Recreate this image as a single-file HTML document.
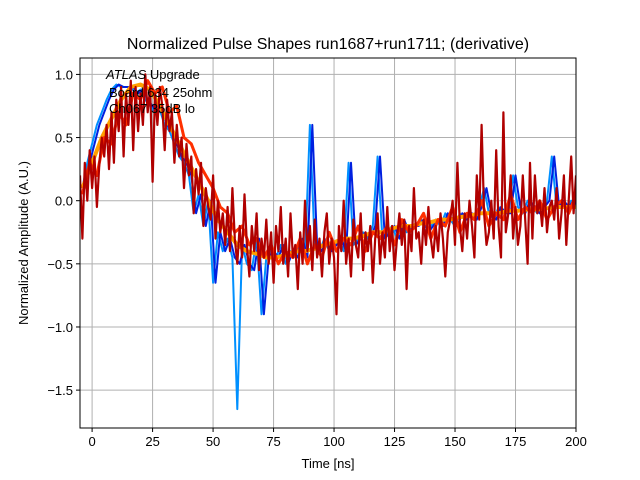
<!DOCTYPE html>
<html><head><meta charset="utf-8"><style>
body{margin:0;background:#fff;}
svg{display:block;font-family:"Liberation Sans","DejaVu Sans",sans-serif;}
</style></head><body>
<svg id="chart" width="640" height="480">
<rect width="640" height="480" fill="#fff"/>
<text x="328" y="49" text-anchor="middle" font-size="16">Normalized Pulse Shapes run1687+run1711; (derivative)</text>
<g id="grid"></g>
<g id="series"></g>
<rect x="80" y="58" width="496" height="370" fill="none" stroke="#000" stroke-width="1"/>
<g id="ticks"></g>
<text x="328" y="468" text-anchor="middle" font-size="13">Time [ns]</text>
<text transform="translate(28,243) rotate(-90)" text-anchor="middle" font-size="13">Normalized Amplitude (A.U.)</text>
<g font-size="13">
<text x="106" y="79"><tspan font-style="italic">ATLAS</tspan> Upgrade</text>
<text x="109" y="97">Board 634 25ohm</text>
<text x="109" y="113">Ch067 35dB lo</text>
</g>
</svg>
<script>
const xTicks=[0,25,50,75,100,125,150,175,200];
const yTicks=[1.0,0.5,0.0,-0.5,-1.0,-1.5];
const yTickLabels=["1.0","0.5","0.0","\u22120.5","\u22121.0","\u22121.5"];
const orangeStart=-4, orangeStep=4;
const orangeVals=[0.1,0.3,0.5,0.65,0.8,0.9,0.92,0.88,0.75,0.6,0.45,0.3,0.15,0.0,-0.15,-0.25,-0.35,-0.4,-0.42,-0.45,-0.45,-0.43,-0.4,-0.4,-0.38,-0.35,-0.33,-0.3,-0.3,-0.28,-0.25,-0.25,-0.22,-0.2,-0.2,-0.18,-0.17,-0.15,-0.15,-0.13,-0.12,-0.1,-0.1,-0.1,-0.08,-0.08,-0.07,-0.07,-0.06,-0.05,-0.05,-0.05];
const blueStart=-4, blueStep=2;
const blueVals=[0.1,0.3,0.45,0.6,0.7,0.8,0.88,0.92,0.9,0.9,0.9,0.85,0.88,0.8,0.75,0.7,0.72,0.6,0.55,0.45,0.35,0.3,0.2,-0.1,0.05,-0.2,0.0,-0.65,-0.25,-0.4,-0.3,-0.45,-1.65,-0.35,-0.5,-0.55,-0.3,-0.9,-0.45,-0.4,-0.45,-0.35,-0.5,-0.4,-0.45,-0.3,-0.45,0.6,-0.35,-0.4,-0.3,-0.4,-0.35,-0.3,-0.4,0.3,-0.35,-0.3,-0.25,-0.3,-0.2,0.35,-0.3,-0.25,-0.2,-0.3,-0.15,-0.25,-0.2,-0.2,-0.15,-0.25,-0.2,-0.15,-0.2,-0.1,-0.15,-0.2,-0.1,-0.15,-0.1,-0.15,-0.05,0.1,-0.1,-0.15,-0.05,-0.1,-0.1,0.2,-0.05,-0.1,0.0,-0.05,-0.1,-0.05,0.0,0.35,-0.05,0.0,-0.05,0.0,-0.05];
const redStart=-4, redStep=3;
const redVals=[0.05,0.3,0.2,0.5,0.45,0.7,0.6,0.85,0.8,0.95,0.85,0.9,0.7,0.75,0.5,0.45,0.3,0.2,0.1,-0.05,-0.1,-0.25,-0.2,-0.35,-0.3,-0.45,-0.35,-0.5,-0.4,-0.45,-0.3,-0.5,-0.35,-0.45,-0.25,-0.4,-0.3,-0.35,-0.2,-0.4,-0.25,-0.3,-0.2,-0.35,-0.15,-0.25,-0.2,-0.1,-0.3,-0.15,-0.2,-0.05,-0.25,-0.1,-0.15,0.0,-0.2,-0.1,-0.15,0.05,-0.15,-0.05,-0.1,0.0,-0.15,-0.05,0.0,-0.1,0.05];
const darkStart=-5, darkStep=1;
const darkVals=[0.2,-0.3,0.3,0.0,0.4,0.1,0.35,-0.05,0.3,0.5,
0.35,0.6,0.25,0.7,0.3,0.8,0.55,0.9,0.35,0.85,
0.6,0.95,0.4,0.9,0.55,0.85,0.6,1.0,0.7,0.9,
0.15,0.85,0.6,0.9,0.75,0.4,0.8,0.55,0.7,0.3,
0.6,0.35,0.5,0.1,0.45,0.2,0.35,-0.1,0.25,0.05,
0.3,-0.2,0.1,-0.05,-0.15,0.2,-0.3,0.0,-0.25,-0.1,
-0.35,-0.05,-0.4,0.1,-0.3,-0.5,-0.2,-0.45,0.05,-0.35,
-0.6,-0.2,-0.4,-0.1,-0.55,-0.3,-0.45,-0.15,-0.5,-0.25,
-0.65,-0.2,-0.4,-0.05,-0.5,-0.3,-0.6,-0.1,-0.45,-0.35,
-0.7,-0.25,-0.5,0.0,-0.4,-0.2,-0.55,-0.15,-0.45,-0.3,
-0.6,-0.25,-0.1,-0.5,-0.3,-0.45,-0.9,-0.2,-0.4,0.0,
-0.5,-0.3,-0.6,-0.15,-0.35,-0.45,-0.1,-0.55,-0.25,-0.4,
-0.2,-0.65,-0.3,-0.1,-0.5,-0.25,-0.45,-0.05,-0.4,-0.2,
-0.55,-0.3,-0.1,-0.35,-0.15,-0.7,-0.2,-0.4,0.1,-0.3,
-0.25,-0.5,-0.15,-0.35,-0.05,-0.3,-0.45,-0.2,-0.4,-0.1,
-0.3,-0.6,-0.25,-0.15,0.0,-0.35,0.3,-0.2,-0.4,-0.1,
-0.3,0.0,-0.2,-0.45,0.2,-0.15,0.6,-0.1,-0.35,-0.25,
0.0,-0.3,0.4,-0.2,-0.45,0.7,-0.25,-0.1,0.2,-0.3,
-0.05,-0.35,-0.2,0.2,-0.15,-0.5,0.3,-0.3,0.2,-0.1,
0.0,-0.2,0.1,-0.25,-0.05,0.0,-0.15,0.1,-0.3,-0.1,
0.2,-0.35,0.0,0.35,-0.1,0.2];

const NS="http://www.w3.org/2000/svg";
const X0=80,X1=576,Y0=58,Y1=428,xmin=-5,xmax=200,ymin=-1.8,ymax=1.13;
function xs(v){return X0+(v-xmin)/(xmax-xmin)*(X1-X0);}
function ys(v){return Y1-(v-ymin)/(ymax-ymin)*(Y1-Y0);}
const grid=document.getElementById('grid'),ticks=document.getElementById('ticks'),ser=document.getElementById('series');
function mk(tag,attrs,parent){const e=document.createElementNS(NS,tag);for(const k in attrs)e.setAttribute(k,attrs[k]);parent.appendChild(e);return e;}
xTicks.forEach(t=>{
  const x=xs(t);
  const g=mk('line',{x1:x,x2:x,y1:Y0,y2:Y1,stroke:'#b0b0b0','stroke-width':1},grid);
  
  
  const tk=mk('line',{x1:x,x2:x,y1:Y1,y2:Y1+4,stroke:'#000'},ticks);
  
  
  const tx=mk('text',{x:x,y:Y1+18,'text-anchor':'middle','font-size':13},ticks);
  tx.textContent=String(t);
  
  
});
yTicks.forEach((t,i)=>{
  const y=ys(t);
  const g=mk('line',{x1:X0,x2:X1,y1:y,y2:y,stroke:'#b0b0b0','stroke-width':1},grid);
  
  
  const tk=mk('line',{x1:X0-4,x2:X0,y1:y,y2:y,stroke:'#000'},ticks);
  
  
  const tx=mk('text',{x:X0-7,y:y+5,'text-anchor':'end','font-size':13},ticks);
  tx.textContent=yTickLabels[i];
  
  
});
function line(vals,start,step,color,w,name){
  const pts=vals.map((v,i)=>xs(start+i*step).toFixed(1)+','+ys(v).toFixed(1)).join(' ');
  const p=mk('polyline',{points:pts,fill:'none',stroke:color,'stroke-width':w,'stroke-linejoin':'round'},ser);
  
  
}
const cp=document.createElementNS(NS,'clipPath');cp.id='clip';
mk('rect',{x:X0,y:Y0,width:X1-X0,height:Y1-Y0},cp);document.getElementById('chart').appendChild(cp);
ser.setAttribute('clip-path','url(#clip)');
line(blueVals,blueStart,blueStep,'#0090ff',2,'series-light-blue');
line(blueVals.map(v=>v<-1?-0.5:v),blueStart+1,blueStep,'#0020e0',2,'series-blue');
line(orangeVals,orangeStart,orangeStep,'#ffa000',4,'series-orange');
line(redVals,redStart,redStep,'#ff3000',3,'series-red');
line(darkVals,darkStart,darkStep,'#b00000',2.2,'series-dark-red');
</script>
</body></html>
